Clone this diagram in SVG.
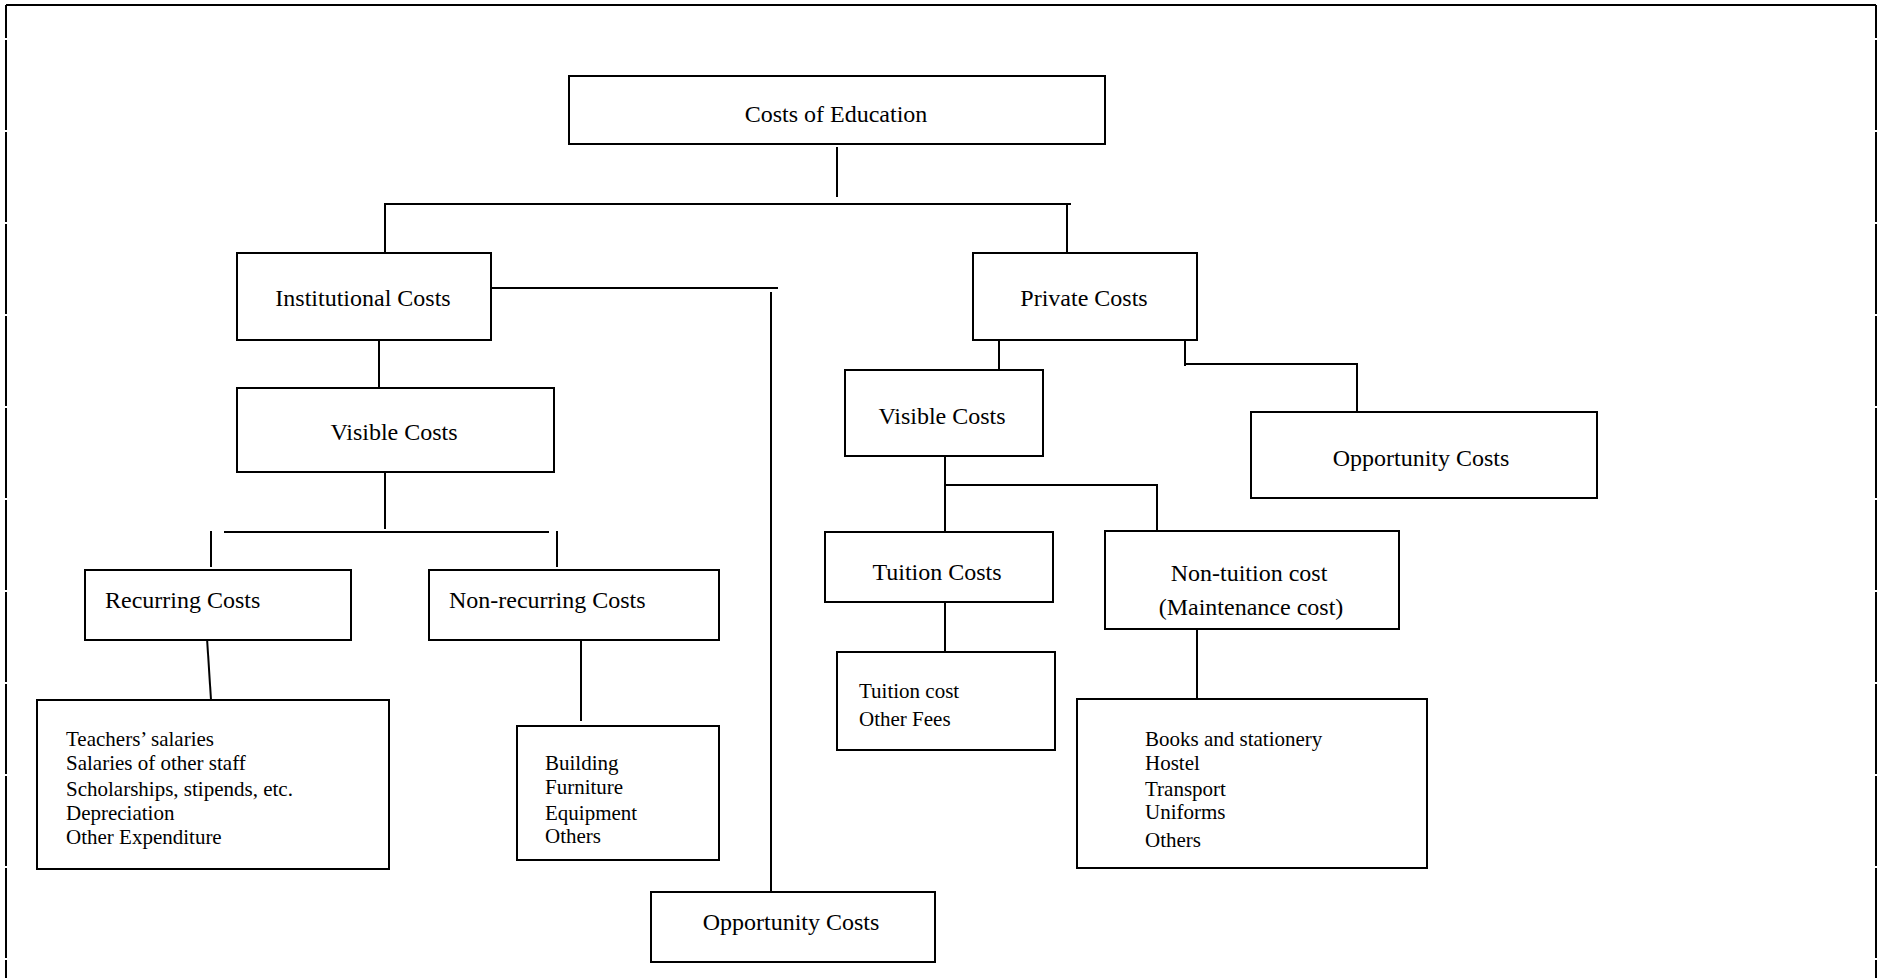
<svg xmlns="http://www.w3.org/2000/svg" width="1881" height="978" viewBox="0 0 1881 978">
<style>
.box{fill:#fff;stroke:#000;stroke-width:2}
.ln{fill:none;stroke:#000;stroke-width:2}
.frame{fill:none;stroke:#000;stroke-width:2}
.side{fill:none;stroke:#000;stroke-width:2;stroke-dasharray:90 2;stroke-dashoffset:57}
text{font-family:"Liberation Serif","Times New Roman",serif;fill:#000}
.lbl{font-size:24px}
.mid{text-anchor:middle}
.item{font-size:21px}
</style>
<rect x="0" y="0" width="1881" height="978" fill="#fff"/>
<g id="frame">
<line class="frame" x1="6" y1="5" x2="1876" y2="5"/>
<line class="side" x1="6" y1="5" x2="6" y2="978"/>
<line class="side" x1="1876" y1="5" x2="1876" y2="978"/>
</g>
<g id="connectors">
<line class="ln" x1="837" y1="147" x2="837" y2="197"/>
<line class="ln" x1="384" y1="204" x2="1071" y2="204"/>
<line class="ln" x1="385" y1="204" x2="385" y2="253"/>
<line class="ln" x1="1067" y1="204" x2="1067" y2="253"/>
<line class="ln" x1="489" y1="288" x2="778" y2="288"/>
<line class="ln" x1="771" y1="292" x2="771" y2="892"/>
<line class="ln" x1="379" y1="337" x2="379" y2="388"/>
<line class="ln" x1="385" y1="459" x2="385" y2="529"/>
<line class="ln" x1="224" y1="532" x2="549" y2="532"/>
<line class="ln" x1="211" y1="531" x2="211" y2="567"/>
<line class="ln" x1="557" y1="531" x2="557" y2="567"/>
<line class="ln" x1="207" y1="638" x2="211" y2="700"/>
<line class="ln" x1="581" y1="638" x2="581" y2="721"/>
<line class="ln" x1="999" y1="340" x2="999" y2="374"/>
<line class="ln" x1="1185" y1="340" x2="1185" y2="366"/>
<polyline class="ln" points="1185,364 1357,364 1357,412"/>
<line class="ln" x1="945" y1="456" x2="945" y2="532"/>
<polyline class="ln" points="945,485 1157,485 1157,531"/>
<line class="ln" x1="945" y1="602" x2="945" y2="654"/>
<line class="ln" x1="1197" y1="626" x2="1197" y2="699"/>
</g>
<g id="costs-of-education">
<rect class="box" x="569" y="76" width="536" height="68"/>
<text class="lbl mid" x="836" y="122">Costs of Education</text>
</g>
<g id="institutional-costs">
<rect class="box" x="237" y="253" width="254" height="87"/>
<text class="lbl mid" x="363" y="306">Institutional Costs</text>
</g>
<g id="private-costs">
<rect class="box" x="973" y="253" width="224" height="87"/>
<text class="lbl mid" x="1084" y="306">Private Costs</text>
</g>
<g id="visible-costs-institutional">
<rect class="box" x="237" y="388" width="317" height="84"/>
<text class="lbl mid" x="394" y="440">Visible Costs</text>
</g>
<g id="visible-costs-private">
<rect class="box" x="845" y="370" width="198" height="86"/>
<text class="lbl mid" x="942" y="424">Visible Costs</text>
</g>
<g id="opportunity-costs-private">
<rect class="box" x="1251" y="412" width="346" height="86"/>
<text class="lbl mid" x="1421" y="466">Opportunity Costs</text>
</g>
<g id="recurring-costs">
<rect class="box" x="85" y="570" width="266" height="70"/>
<text class="lbl" x="105" y="608">Recurring Costs</text>
</g>
<g id="non-recurring-costs">
<rect class="box" x="429" y="570" width="290" height="70"/>
<text class="lbl" x="449" y="608">Non-recurring Costs</text>
</g>
<g id="recurring-items">
<rect class="box" x="37" y="700" width="352" height="169"/>
<text class="item" x="66" y="746">Teachers’ salaries</text>
<text class="item" x="66" y="770">Salaries of other staff</text>
<text class="item" x="66" y="796">Scholarships, stipends, etc.</text>
<text class="item" x="66" y="820">Depreciation</text>
<text class="item" x="66" y="844">Other Expenditure</text>
</g>
<g id="non-recurring-items">
<rect class="box" x="517" y="726" width="202" height="134"/>
<text class="item" x="545" y="770">Building</text>
<text class="item" x="545" y="794">Furniture</text>
<text class="item" x="545" y="820">Equipment</text>
<text class="item" x="545" y="843">Others</text>
</g>
<g id="opportunity-costs-institutional">
<rect class="box" x="651" y="892" width="284" height="70"/>
<text class="lbl mid" x="791" y="930">Opportunity Costs</text>
</g>
<g id="tuition-costs">
<rect class="box" x="825" y="532" width="228" height="70"/>
<text class="lbl mid" x="937" y="580">Tuition Costs</text>
</g>
<g id="tuition-items">
<rect class="box" x="837" y="652" width="218" height="98"/>
<text class="item" x="859" y="698">Tuition cost</text>
<text class="item" x="859" y="726">Other Fees</text>
</g>
<g id="non-tuition-cost">
<rect class="box" x="1105" y="531" width="294" height="98"/>
<text class="lbl mid" x="1249" y="581">Non-tuition cost</text>
<text class="lbl mid" x="1251" y="615">(Maintenance cost)</text>
</g>
<g id="non-tuition-items">
<rect class="box" x="1077" y="699" width="350" height="169"/>
<text class="item" x="1145" y="746">Books and stationery</text>
<text class="item" x="1145" y="770">Hostel</text>
<text class="item" x="1145" y="796">Transport</text>
<text class="item" x="1145" y="819">Uniforms</text>
<text class="item" x="1145" y="847">Others</text>
</g>
</svg>
